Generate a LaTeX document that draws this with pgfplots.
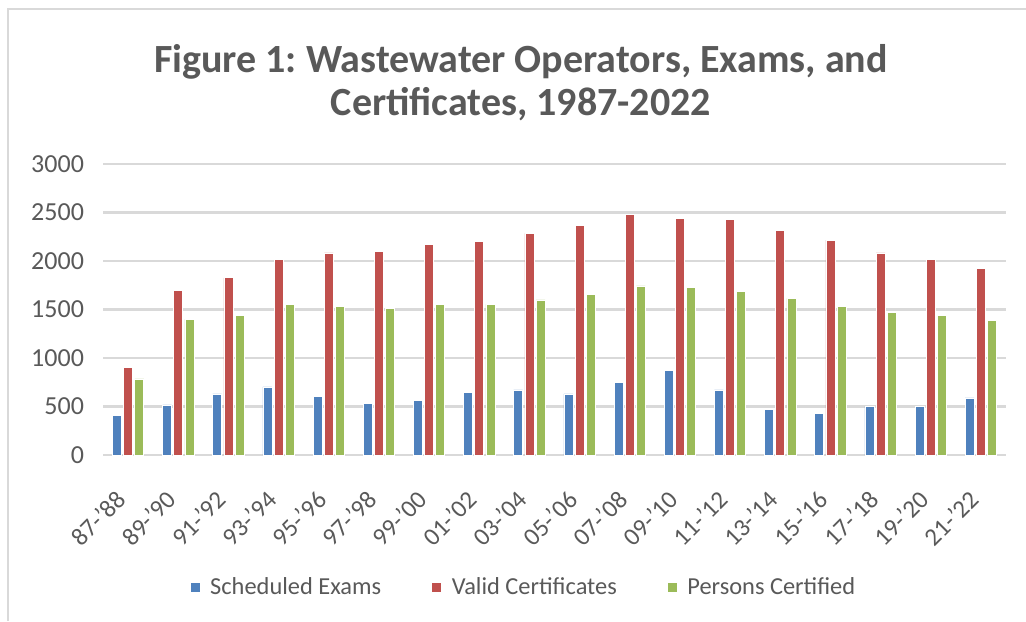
\documentclass[border=0pt]{standalone}
\usepackage{pgfplots}
\pgfplotsset{compat=1.18}
\usepackage{fontspec}
\setmainfont{Carlito}
\frenchspacing
\definecolor{sblue}{HTML}{4F81BD}
\definecolor{sred}{HTML}{C0504D}
\definecolor{sgreen}{HTML}{9BBB59}
\definecolor{txt}{HTML}{595959}
\definecolor{gridc}{HTML}{D9D9D9}
\begin{document}
\begin{tikzpicture}
\path[use as bounding box] (0pt,0pt) rectangle (513pt,310.5pt);
\draw[gridc, line width=1.2pt] (4pt,0pt) -- (4pt,306pt) -- (513pt,306pt);
\node[align=center, text=txt, font=\fontsize{20}{21.5}\selectfont\bfseries] at (260.5pt,269pt) {Figure 1: Wastewater Operators, Exams, and\\Certificates, 1987-2022};
\begin{axis}[
  at={(51.5pt,83pt)}, anchor=south west,
  scale only axis, width=451.5pt, height=145.5pt,
  ybar=1.1pt, bar width=4.5pt,
  xmin=-0.5, xmax=17.5, ymin=0, ymax=3000,
  ytick={0,500,...,3000},
  xtick={0,...,17},
  xticklabels={87-'88,89-'90,91-'92,93-'94,95-'96,97-'98,99-'00,01-'02,03-'04,05-'06,07-'08,09-'10,11-'12,13-'14,15-'16,17-'18,19-'20,21-'22},
  axis line style={draw=none},
  major tick length=0pt,
  ymajorgrids, xmajorgrids=false, grid style={draw=gridc, line width=1.2pt},
  /pgf/number format/assume math mode=true,
  /pgf/number format/1000 sep={},
  yticklabel style={font=\fontsize{13}{15}\selectfont, text=txt, xshift=-6pt},
  xticklabel shift=12pt,
  xticklabel style={xshift=-6.5pt, font=\fontsize{12.5}{15}\selectfont, text=txt, rotate=45, anchor=north east},
  legend style={at={(0.470,-0.455)}, anchor=center, draw=none, legend columns=3,
    font=\fontsize{12.2}{14}\selectfont, text=txt,
    nodes={inner xsep=5pt},
    /tikz/every even column/.append style={column sep=20pt}},
  legend image code/.code={\fill[#1] (0pt,-2.5pt) rectangle (5pt,2.5pt);},
]
\addplot[fill=sblue, draw=white, line width=0.3pt] coordinates {(0,405) (1,516) (2,630) (3,702) (4,602) (5,529) (6,561) (7,644) (8,671) (9,630) (10,747) (11,872) (12,671) (13,474) (14,429) (15,502) (16,502) (17,588)};
\addplot[fill=sred, draw=white, line width=0.3pt] coordinates {(0,900) (1,1699) (2,1827) (3,2014) (4,2083) (5,2097) (6,2170) (7,2201) (8,2284) (9,2367) (10,2484) (11,2439) (12,2429) (13,2315) (14,2215) (15,2083) (16,2014) (17,1927)};
\addplot[fill=sgreen, draw=white, line width=0.3pt] coordinates {(0,785) (1,1398) (2,1443) (3,1554) (4,1529) (5,1512) (6,1554) (7,1554) (8,1599) (9,1657) (10,1744) (11,1730) (12,1685) (13,1616) (14,1529) (15,1471) (16,1443) (17,1384)};
\legend{Scheduled Exams, Valid Certificates, Persons Certified}
\end{axis}
\end{tikzpicture}
\end{document}
